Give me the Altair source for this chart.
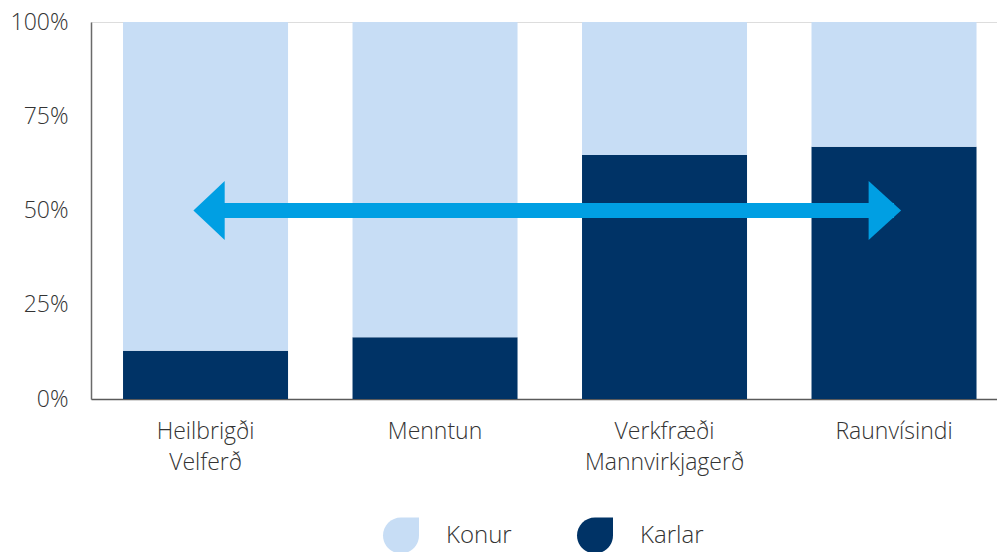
import altair as alt
import pandas as pd

categories = ["Heilbrigði Velferð", "Menntun", "Verkfræði Mannvirkjagerð", "Raunvísindi"]
karlar = [12.8, 16.4, 64.7, 66.9]
konur = [87.2, 83.6, 35.3, 33.1]
series = ["Konur", "Karlar"]
y_ticks = [0, 25, 50, 75, 100]
arrow_from = "Heilbrigði Velferð"
arrow_to = "Raunvísindi"
arrow_level = 50

LIGHT = "#C7DDF5"
DARK = "#003366"
ARROW = "#009FE3"
TEXT = "#333333"
FONT = "Open Sans"

rows = []
for c, k, m in zip(categories, konur, karlar):
    rows.append({"cat": c, "kyn": "Karlar", "val": m, "ord": 0})
    rows.append({"cat": c, "kyn": "Konur", "val": k, "ord": 1})
df = pd.DataFrame(rows)

arrow_df = pd.DataFrame([{"a": arrow_from, "b": arrow_to, "y": arrow_level}])
left_df = pd.DataFrame([{"cat": arrow_from, "y": arrow_level}])
right_df = pd.DataFrame([{"cat": arrow_to, "y": arrow_level}])

xscale = alt.Scale(domain=categories, paddingInner=0.281, paddingOuter=0.1144, align=0.61)
yscale = alt.Scale(domain=[0, 100])

LEAF = "M0,-1 L1,-1 L1,0 A1,1 0 0,1 0,1 A1,1 0 0,1 -1,0 A1,1 0 0,1 0,-1 Z"

bars = alt.Chart(df).mark_bar(stroke=None).encode(
    x=alt.X("cat:N", scale=xscale, sort=categories, title=None,
            axis=alt.Axis(labelExpr="split(datum.label, ' ')", labelAngle=0,
                          ticks=False, tickSize=0, labelPadding=21,
                          labelLineHeight=31.5, labelFontSize=23,
                          labelFont=FONT, labelFontWeight=300, labelColor=TEXT,
                          domainColor="#5a5a5a", domainWidth=1.5)),
    y=alt.Y("val:Q", stack="zero", scale=yscale, title=None,
            axis=alt.Axis(values=y_ticks, labelExpr="datum.value + '%'",
                          ticks=False, tickSize=0, grid=False, labelPadding=23,
                          labelFontSize=23, labelFont=FONT, labelFontWeight=300,
                          labelColor=TEXT,
                          domainColor="#6a6a6a", domainWidth=1.5)),
    color=alt.Color("kyn:N", scale=alt.Scale(domain=series, range=[LIGHT, DARK]),
                    title=None,
                    legend=alt.Legend(orient="none", direction="horizontal",
                                      legendX=292, legendY=495.5,
                                      symbolType=LEAF, symbolSize=1296,
                                      symbolStrokeWidth=0, labelFontSize=24,
                                      labelOffset=27, columnPadding=65,
                                      padding=0, labelColor=TEXT,
                                      labelFont=FONT, labelFontWeight=300)),
    order=alt.Order("ord:Q"),
)

shaft = alt.Chart(arrow_df).mark_rule(color=ARROW, strokeWidth=15, strokeCap="butt").encode(
    x=alt.X("a:N", scale=xscale, sort=categories),
    x2="b:N",
    y=alt.Y("y:Q", scale=yscale),
)

head_left = alt.Chart(left_df).mark_point(
    shape="M-0.41,0 L0.65,-1 L0.65,1 Z", filled=True, color=ARROW,
    size=3481, opacity=1, strokeWidth=0,
).encode(x=alt.X("cat:N", scale=xscale, sort=categories), y=alt.Y("y:Q", scale=yscale))

head_right = alt.Chart(right_df).mark_point(
    shape="M0.24,0 L-0.86,-1 L-0.86,1 Z", filled=True, color=ARROW,
    size=3481, opacity=1, strokeWidth=0,
).encode(x=alt.X("cat:N", scale=xscale, sort=categories), y=alt.Y("y:Q", scale=yscale))

chart = alt.layer(bars, shaft, head_left, head_right).properties(
    width=906, height=377,
    autosize=alt.AutoSizeParams(type="none"),
    padding={"left": 91, "top": 22, "right": 0, "bottom": 153},
).configure_view(stroke=None).configure(background="white")

chart.save("out.html", embed_options={"renderer": "svg", "actions": False})
